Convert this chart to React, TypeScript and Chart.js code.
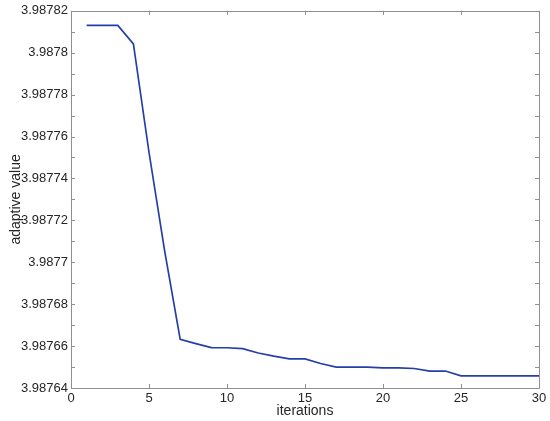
import React, { useEffect, useRef } from "react";
import { Chart, registerables } from "chart.js";

Chart.register(...registerables);

const iterations = [1, 2, 3, 4, 5, 6, 7, 8, 9, 10, 11, 12, 13, 14, 15, 16, 17, 18, 19, 20, 21, 22, 23, 24, 25, 26, 27, 28, 29, 30];
const adaptiveValues = [
  3.987813, 3.987813, 3.987813, 3.9878042, 3.9877525, 3.9877056, 3.9876632,
  3.9876612, 3.9876593, 3.9876592, 3.9876588, 3.9876567, 3.9876552, 3.9876539,
  3.9876539, 3.9876517, 3.98765, 3.98765, 3.98765, 3.9876496, 3.9876496,
  3.9876493, 3.9876481, 3.9876481, 3.9876458, 3.9876458, 3.9876458, 3.9876458,
  3.9876458, 3.9876458,
];
const xTickValues = [0, 5, 10, 15, 20, 25, 30];
const yTickValues = [
  3.98764, 3.98765, 3.98766, 3.98767, 3.98768, 3.98769, 3.9877, 3.98771,
  3.98772, 3.98773, 3.98774, 3.98775, 3.98776, 3.98777, 3.98778, 3.98779,
  3.9878, 3.98781, 3.98782,
];
const yTickLabels = [
  "3.98764", "", "3.98766", "", "3.98768", "", "3.9877", "", "3.98772", "",
  "3.98774", "", "3.98776", "", "3.98778", "", "3.9878", "", "3.98782",
];
const xTitle = "iterations";
const yTitle = "adaptive value";

const AXIS_COLOR = "#8f8f8f";
const TEXT_COLOR = "#262626";

const boxPlugin = {
  id: "matlabBox",
  afterDraw(chart: any) {
    const { ctx, chartArea } = chart;
    const { left, right, top, bottom } = chartArea;
    const xs = chart.scales.x;
    const ys = chart.scales.y;
    const len = 4;
    ctx.save();
    ctx.strokeStyle = AXIS_COLOR;
    ctx.lineWidth = 1;
    ctx.beginPath();
    ctx.rect(Math.round(left) + 0.5, Math.round(top) + 0.5, Math.round(right - left), Math.round(bottom - top));
    ctx.stroke();
    ctx.beginPath();
    for (const v of xTickValues) {
      const px = Math.round(xs.getPixelForValue(v)) + 0.5;
      ctx.moveTo(px, bottom);
      ctx.lineTo(px, bottom - len);
      ctx.moveTo(px, top);
      ctx.lineTo(px, top + len);
    }
    for (const v of yTickValues) {
      const py = Math.round(ys.getPixelForValue(v)) + 0.5;
      ctx.moveTo(left, py);
      ctx.lineTo(left + len, py);
      ctx.moveTo(right, py);
      ctx.lineTo(right - len, py);
    }
    ctx.stroke();
    ctx.restore();
  },
};

export default function App() {
  const canvasRef = useRef<HTMLCanvasElement | null>(null);

  useEffect(() => {
    document.body.style.margin = "0";
    const canvas = canvasRef.current;
    if (!canvas) return;
    Chart.defaults.font.family = "'Liberation Sans', Arial, sans-serif";
    const chart = new Chart(canvas, {
      type: "line",
      data: {
        datasets: [
          {
            data: iterations.map((x, i) => ({ x, y: adaptiveValues[i] })),
            borderColor: "#2440a8",
            borderWidth: 1.7,
            pointRadius: 0,
            tension: 0,
            fill: false,
          },
        ],
      },
      options: {
        responsive: false,
        animation: false,
        layout: { padding: { left: 0, right: 11, top: 9, bottom: 0 } },
        plugins: {
          legend: { display: false },
          tooltip: { enabled: false },
        },
        scales: {
          x: {
            type: "linear",
            min: 0,
            max: 30,
            afterBuildTicks: (scale: any) => {
              scale.ticks = xTickValues.map((v) => ({ value: v }));
            },
            afterFit: (scale: any) => {
              scale.height = 33;
            },
            grid: { display: false, drawTicks: false },
            border: { display: false },
            ticks: {
              color: TEXT_COLOR,
              font: { size: 13 },
              padding: 3,
              maxRotation: 0,
              autoSkip: false,
              callback: (v: any) => String(v),
            },
            title: {
              display: true,
              text: xTitle,
              color: TEXT_COLOR,
              font: { size: 14 },
              padding: { top: 0, bottom: 1 },
            },
          },
          y: {
            type: "linear",
            min: 3.98764,
            max: 3.98782,
            afterBuildTicks: (scale: any) => {
              scale.ticks = yTickValues.map((v) => ({ value: v }));
            },
            afterFit: (scale: any) => {
              scale.width = 71;
            },
            grid: { display: false, drawTicks: false },
            border: { display: false },
            ticks: {
              color: TEXT_COLOR,
              font: { size: 13 },
              padding: 3,
              autoSkip: false,
              callback: (_v: any, i: number) => yTickLabels[i],
            },
            title: {
              display: true,
              text: yTitle,
              color: TEXT_COLOR,
              font: { size: 14 },
              padding: { top: 7.5, bottom: 0 },
            },
          },
        },
      },
      plugins: [boxPlugin],
    });
    return () => chart.destroy();
  }, []);

  return (
    <div style={{ width: 550, height: 421, background: "#fff" }}>
      <canvas ref={canvasRef} width={550} height={421} style={{ display: "block" }} />
    </div>
  );
}
